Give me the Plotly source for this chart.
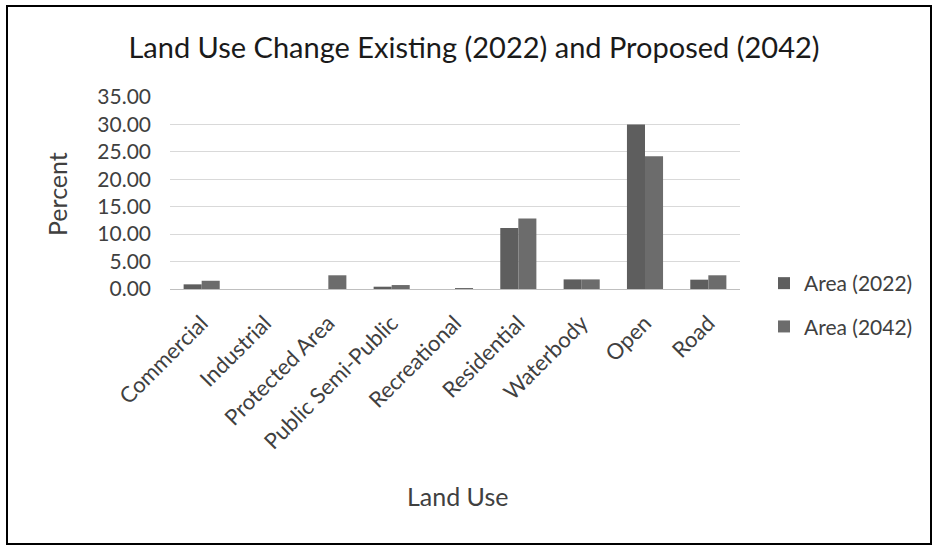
import plotly.graph_objects as go

categories = ["Commercial", "Industrial", "Protected Area", "Public Semi-Public",
              "Recreational", "Residential", "Waterbody", "Open", "Road"]
area_2022 = [0.85, 0.0, 0.0, 0.42, 0.0, 11.1, 1.75, 30.0, 1.7]
area_2042 = [1.5, 0.0, 2.5, 0.72, 0.17, 12.85, 1.75, 24.2, 2.5]
y_ticks = [0, 5, 10, 15, 20, 25, 30, 35]

FONT = "Lato"
TXT = "#404040"

fig = go.Figure()
fig.add_trace(go.Bar(x=categories, y=area_2022, name="Area (2022)",
                     marker=dict(color="#5e5e5e", line=dict(width=0)),
                     legendgroup="a"))
fig.add_trace(go.Bar(x=categories, y=area_2042, name="Area (2042)",
                     marker=dict(color="#6c6c6c", line=dict(width=0)),
                     legendgroup="b"))

L, R, T, B = 170, 194, 97, 258
W, H = 934, 547
pw = W - L - R
ph = H - T - B

def px(x):
    return (x - L) / pw

def py(y):
    return (H - B - y) / ph

fig.update_layout(
    width=W, height=H,
    margin=dict(l=L, r=R, t=T, b=B, autoexpand=False),
    paper_bgcolor="white", plot_bgcolor="white",
    barmode="group", bargap=0.43, bargroupgap=0,
    font=dict(family=FONT, color=TXT, size=21),
    title=dict(text="Land Use Change Existing (2022) and Proposed (2042)",
               x=474 / W, xanchor="center", y=1 - 48 / H, yanchor="middle",
               font=dict(size=29, color="#1a1a1a", family=FONT)),
    showlegend=True,
    legend=dict(x=px(764), xanchor="left", y=py(263), yanchor="top",
                font=dict(size=21, color=TXT), tracegroupgap=13,
                bgcolor="rgba(0,0,0,0)"),
    xaxis=dict(tickangle=-45, showgrid=False, showline=False, ticks="",
               tickfont=dict(size=22, color=TXT), ticklabelstandoff=16),
    yaxis=dict(range=[0, 35], tickvals=y_ticks, tickformat=".2f",
               showgrid=True, gridcolor="#d9d9d9", gridwidth=1,
               zeroline=True, zerolinecolor="#bfbfbf", zerolinewidth=1,
               showline=False, ticks="", ticklabelstandoff=18,
               tickfont=dict(size=21, color=TXT)),
    annotations=[
        dict(text="Land Use", xref="paper", yref="paper", x=px(457), y=py(496),
             xanchor="center", yanchor="middle", showarrow=False,
             font=dict(size=25, color=TXT, family=FONT)),
        dict(text="Percent", xref="paper", yref="paper", x=px(57), y=py(194),
             xanchor="center", yanchor="middle", showarrow=False, textangle=-90,
             font=dict(size=25, color=TXT, family=FONT)),
    ],
    shapes=[dict(type="rect", xref="paper", yref="paper",
                 x0=px(7), x1=px(931), y0=py(544), y1=py(6),
                 line=dict(color="black", width=2), fillcolor="rgba(0,0,0,0)", layer="below")],
)

fig.write_html("out.html", config={"displayModeBar": False},
               post_script="document.body.style.margin='0';")
